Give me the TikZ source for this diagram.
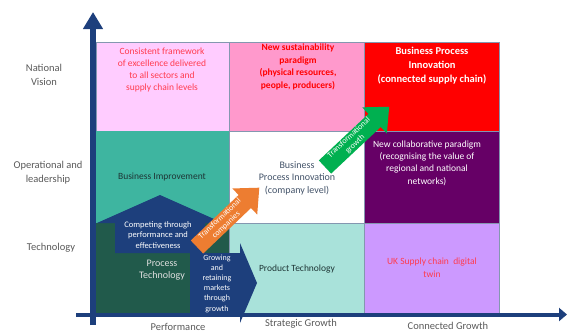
\documentclass[tikz,border=0pt]{standalone}
\usepackage{fontspec}
\setmainfont{Carlito}
\usetikzlibrary{arrows.meta}
\definecolor{lpink}{HTML}{FFCCFF}
\definecolor{mpink}{HTML}{FF99CC}
\definecolor{bred}{HTML}{FF0000}
\definecolor{teal}{HTML}{3EB5A0}
\definecolor{purp}{HTML}{660066}
\definecolor{dgreen}{HTML}{215A4B}
\definecolor{lteal}{HTML}{A9E2DA}
\definecolor{lav}{HTML}{CC99FF}
\definecolor{dblue}{HTML}{1D3F7C}
\definecolor{axisblue}{HTML}{1D3F7C}
\definecolor{orng}{HTML}{ED7D31}
\definecolor{grn}{HTML}{00B050}
\definecolor{cellline}{HTML}{8497B0}
\definecolor{labgray}{HTML}{595959}
\definecolor{txtred}{HTML}{FF3B4E}
\definecolor{slate}{HTML}{44546A}
\definecolor{darktxt}{HTML}{1E3535}
\begin{document}
\begin{tikzpicture}[x=1pt,y=-1pt,
  cell/.style={draw=cellline, line width=0.7pt},
  lbl/.style={text=labgray, align=center, inner sep=0pt, font=\fontsize{10.5}{14}\selectfont},
  ctext/.style={align=center, inner sep=0pt},
  arrtext/.style={text=white, align=center, inner sep=0pt, font=\fontsize{8}{9}\selectfont},
  axisline/.style={color=axisblue}
]
\useasboundingbox (0,0) rectangle (567,333);
% cells
\filldraw[cell, fill=lpink] (96,42) rectangle (229,131);
\filldraw[cell, fill=mpink] (229,42) rectangle (364,131);
\filldraw[cell, fill=bred] (364,42) rectangle (499,131);
\filldraw[cell, fill=teal, draw=teal] (96,131) rectangle (229,223);
\filldraw[cell, fill=white] (229,131) rectangle (364,223);
\filldraw[cell, fill=purp] (364,131) rectangle (499,223);
\filldraw[cell, fill=dgreen, draw=dgreen] (96,223) rectangle (229,313);
\filldraw[cell, fill=lteal] (229,223) rectangle (364,313);
\filldraw[cell, fill=lav] (364,223) rectangle (499,313);
% blue combined arrows
\fill[dblue] (97,223) -- (160,195) -- (223,223) -- (205,223) -- (205,253) -- (240,253) -- (240,243)
  -- (257,283) -- (240,323) -- (240,313) -- (190,313) -- (190,253) -- (115,253) -- (115,223) -- cycle;
% axes
\coordinate (ybot) at (93,325);
\coordinate (ytop) at (93,12);
\coordinate (xleft) at (76,314.5);
\coordinate (xright) at (567,314.5);
\draw[axisline, line width=6pt, -{Triangle[width=19pt,length=17pt]}] (ybot) -- (ytop);
\draw[axisline, line width=4pt, -{Triangle[width=13pt,length=8pt]}] (xleft) -- (xright);
% orange arrow
\begin{scope}[shift={(197,247)}, rotate=43.6]
\fill[orng] (0,-9) -- (66,-9) -- (66,-18) -- (86,0) -- (66,18) -- (66,9) -- (0,9) -- cycle;
\end{scope}
\node[arrtext, rotate=43.6] (tco) at (223,222) {Transformational\\companies};
% green arrow
\begin{scope}[shift={(325,167)}, rotate=43.2]
\fill[grn] (0,-9) -- (68,-9) -- (68,-18) -- (88,0) -- (68,18) -- (68,9) -- (0,9) -- cycle;
\end{scope}
\node[arrtext, rotate=43.2] (tgr) at (352,141) {Transformational\\growth};
% row labels
\node[lbl] (rl1) at (44,75) {National\\Vision};
\node[lbl] (rl2) at (48,173) {Operational and\\leadership};
\node[lbl] (rl3) at (51,248) {Technology};
% column labels
\node[lbl] (cl1) at (178,327) {Performance};
\node[lbl] (cl2) at (301,324) {Strategic Growth};
\node[lbl] (cl3) at (448,326) {Connected Growth};
% cell texts
\node[ctext, text=txtred, font=\fontsize{9.5}{12}\selectfont] (t11) at (162,70)
  {Consistent framework\\of excellence delivered\\to all sectors and\\supply chain levels};
\node[ctext, text=bred, font=\bfseries\fontsize{9.5}{12.5}\selectfont] (t12) at (298,67)
  {New sustainability\\paradigm\\(physical resources,\\people, producers)};
\node[ctext, text=white, font=\bfseries\fontsize{10.5}{14}\selectfont] (t13) at (432,66)
  {Business Process\\Innovation\\(connected supply chain)};
\node[ctext, text=darktxt, font=\fontsize{9.5}{12}\selectfont] (t21) at (162,177) {Business Improvement};
\node[ctext, text=slate, font=\fontsize{10}{12.5}\selectfont] (t22) at (297,178)
  {Business\\Process Innovation\\(company level)};
\node[ctext, text=white, font=\fontsize{9.5}{12.4}\selectfont] (t23) at (427,163)
  {New collaborative paradigm\\(recognising the value of\\regional and national\\networks)};
\node[ctext, text=white, font=\fontsize{8.5}{10.5}\selectfont] (tcomp) at (158,235)
  {Competing through\\performance and\\effectiveness};
\node[ctext, text=white!88!black, font=\fontsize{10}{12}\selectfont] (t31) at (162,270)
  {Process\\Technology};
\node[ctext, text=white, font=\fontsize{8}{10.2}\selectfont] (tgrow) at (217,283.5)
  {Growing\\and\\retaining\\markets\\through\\growth};
\node[ctext, text=darktxt, font=\fontsize{9.5}{12}\selectfont] (t32) at (297,269) {Product Technology};
\node[ctext, text=txtred, font=\fontsize{9.5}{13}\selectfont] (t33) at (432,268)
  {UK Supply chain\ \ digital\\twin};
\end{tikzpicture}
\end{document}
